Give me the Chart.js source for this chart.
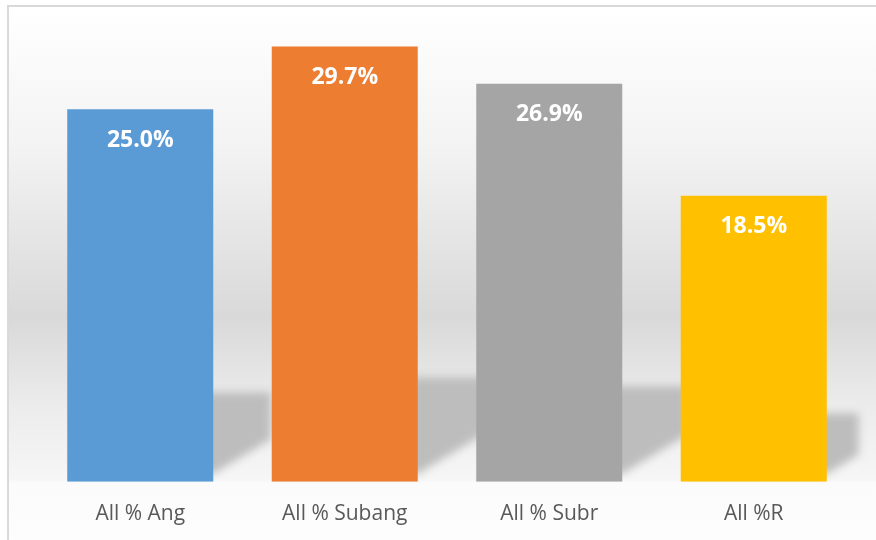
<!DOCTYPE html>
<html>
<head>
<meta charset="utf-8">
<script src="https://cdn.jsdelivr.net/npm/chart.js@4"></script>
<style>
	html, body { margin: 0; padding: 0; background: #ffffff; overflow: hidden; }
	#frame {
		position: absolute;
		left: 7px;
		top: 5px;
		width: 867px;
		height: 540px;
		border-left: 2px solid #d9d9d9;
		border-top: 2px solid #d9d9d9;
		background: linear-gradient(to bottom, #ffffff 0px, #f3f3f3 140px, #d9d9d9 310px, #ececec 400px, #f6f6f6 472px, #fbfbfb 476px, #fdfdfd 540px);
	}
	#barChart { display: block; }
</style>
</head>
<body>
<div id="frame"><canvas id="barChart" width="867" height="532"></canvas></div>
<script>
var categories = ["All % Ang", "All % Subang", "All % Subr", "All %R"];
var percentValues = [25.0, 29.7, 26.9, 18.5];
var barColors = ["#5b9bd5", "#ed7d31", "#a5a5a5", "#ffc000"];
var axisMin = -3, axisMax = 32;

// soft floor shadow behind each bar
var floorShadow = {
	id: 'floorShadow',
	beforeDatasetsDraw: function (chart) {
		var ctx = chart.ctx;
		var meta = chart.getDatasetMeta(0);
		ctx.save();
		ctx.filter = 'blur(4px)';
		ctx.fillStyle = '#bdbdbd';
		meta.data.forEach(function (bar) {
			var left = bar.x - bar.width / 2 + 8;
			var right = bar.x + bar.width / 2;
			var h = bar.base - bar.y;
			var top = bar.base - 0.24 * h;
			var dx = Math.max(28, 0.3 * (h - 180));
			ctx.beginPath();
			ctx.moveTo(left, top);
			ctx.lineTo(right + dx, top);
			ctx.lineTo(right + dx, bar.base - 0.6 * dx - 8);
			ctx.lineTo(right, bar.base - 8);
			ctx.lineTo(left, bar.base - 8);
			ctx.closePath();
			ctx.fill();
		});
		ctx.restore();
	}
};

var valueLabels = {
	id: 'valueLabels',
	afterDatasetsDraw: function (chart) {
		var ctx = chart.ctx;
		var meta = chart.getDatasetMeta(0);
		ctx.save();
		ctx.fillStyle = '#ffffff';
		ctx.font = 'bold 23px "Open Sans"';
		ctx.textAlign = 'center';
		ctx.textBaseline = 'middle';
		meta.data.forEach(function (bar, i) {
			ctx.fillText(percentValues[i].toFixed(1) + '%', bar.x, bar.y + 31);
		});
		ctx.restore();
	}
};

function loadBarChart () {
	var ctx = document.getElementById("barChart");
	new Chart(ctx, {
		type: 'bar',
		data: {
			labels: categories,
			datasets: [{
				data: percentValues,
				base: axisMin,
				backgroundColor: barColors,
				borderWidth: 0,
				categoryPercentage: 1,
				barPercentage: 0.714
			}]
		},
		options: {
			responsive: false,
			animation: false,
			layout: {
				padding: { left: 29, right: 20, top: 9, bottom: 0 }
			},
			plugins: {
				legend: { display: false },
				tooltip: { enabled: false },
				title: { display: false }
			},
			scales: {
				x: {
					grid: { display: false },
					border: { display: false },
					ticks: {
						color: '#595959',
						padding: 12,
						font: { family: 'Open Sans', size: 21 }
					}
				},
				y: {
					display: false,
					min: axisMin,
					max: axisMax
				}
			}
		},
		plugins: [floorShadow, valueLabels]
	});
}
window.addEventListener("load", function(){ loadBarChart(); });
</script>
</body>
</html>
